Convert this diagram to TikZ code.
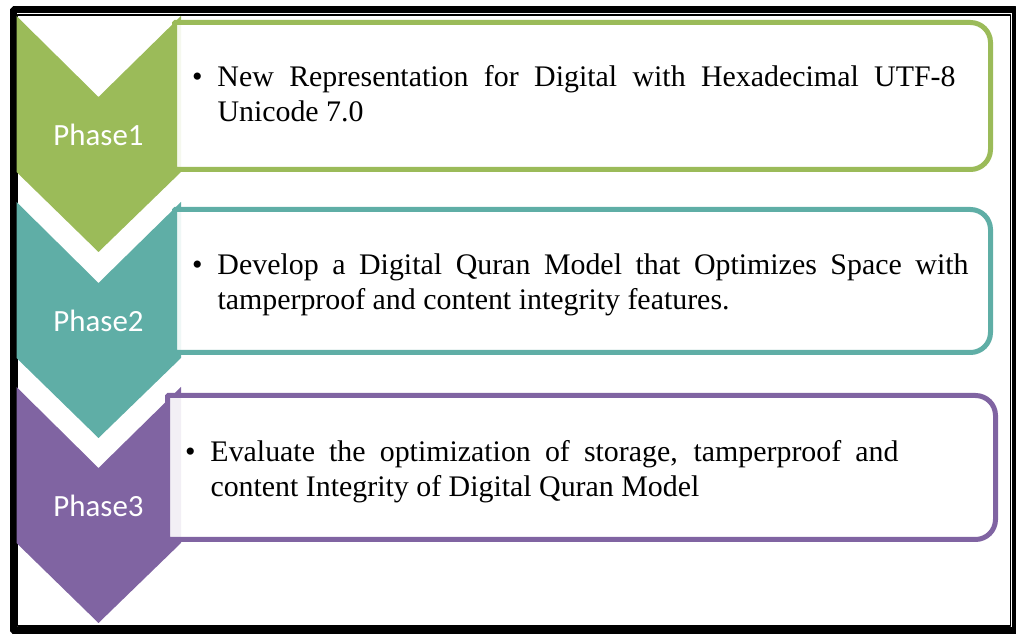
\documentclass[tikz,border=0pt]{standalone}
\usepackage{fontspec}
\setmainfont{Liberation Serif}
\newfontfamily\phasefont{Carlito}
\definecolor{phaseone}{HTML}{9BBB59}
\definecolor{phasetwo}{HTML}{5FAEA6}
\definecolor{phasethree}{HTML}{8064A2}
\newcommand{\itemlist}[2]{\makebox[25.5bp][l]{\textbullet}\parbox[t]{#1}{#2}}

\begin{document}
\begin{tikzpicture}[>=latex,line join=bevel,
  chevron/.style={fill=#1,draw=none},
  listbox/.style={draw=#1,line width=5bp,fill=white,fill opacity=0.9},
  phaselabel/.style={inner sep=0pt,text=white,font=\phasefont\fontsize{31}{37}\selectfont},
  itemtext/.style={anchor=base west,inner sep=0pt,font=\fontsize{30}{35}\selectfont},
]
  \pgfsetlinewidth{1bp}
  \useasboundingbox (0bp,0bp) rectangle (1016bp,634bp);
%%
\pgfsetcolor{black}
  % Frame
  \draw [line width=7bp] (13.5bp,624.5bp) rectangle (1015bp,3bp);
  \draw [line width=1.2bp] (17.5bp,619bp) rectangle (1010.5bp,8bp);
  % Node: Phase1
\begin{scope}
  \fill [chevron=phaseone] (16.5bp,618bp) -- (98.5bp,537bp) -- (181bp,618bp) -- (181bp,462bp) -- (98.5bp,382bp) -- (16.5bp,462bp) -- cycle;
  \draw (98.5bp,499bp) node [phaselabel] (phase1) {Phase1};
  \draw [listbox=phaseone] (174.5bp,611.5bp) -- (970.5bp,611.5bp) arc (90:0:20bp) -- (990.5bp,484.5bp) arc (0:-90:20bp) -- (174.5bp,464.5bp) -- cycle;
  \draw (191.5bp,547bp) node [itemtext] (item1) {\itemlist{738bp}{New Representation for Digital with Hexadecimal UTF-8\linebreak Unicode 7.0}};
\end{scope}
  % Node: Phase2
\begin{scope}
  \fill [chevron=phasetwo] (16.5bp,432bp) -- (98.5bp,351bp) -- (181bp,432bp) -- (181bp,276bp) -- (98.5bp,196bp) -- (16.5bp,276bp) -- cycle;
  \draw (98.5bp,313bp) node [phaselabel] (phase2) {Phase2};
  \draw [listbox=phasetwo] (174.5bp,424.5bp) -- (970.5bp,424.5bp) arc (90:0:20bp) -- (990.5bp,301.5bp) arc (0:-90:20bp) -- (174.5bp,281.5bp) -- cycle;
  \draw (191.5bp,359bp) node [itemtext] (item2) {\itemlist{751bp}{Develop a Digital Quran Model that Optimizes Space with\linebreak tamperproof and content integrity features.}};
\end{scope}
  % Node: Phase3
\begin{scope}
  \fill [chevron=phasethree] (16.5bp,247bp) -- (98.5bp,166bp) -- (181bp,247bp) -- (181bp,91bp) -- (98.5bp,11bp) -- (16.5bp,91bp) -- cycle;
  \draw (98.5bp,128bp) node [phaselabel] (phase3) {Phase3};
  \draw [listbox=phasethree] (167.5bp,238.5bp) -- (975.5bp,238.5bp) arc (90:0:20bp) -- (995.5bp,114.5bp) arc (0:-90:20bp) -- (167.5bp,94.5bp) -- cycle;
  \draw (184.5bp,172bp) node [itemtext] (item3) {\itemlist{688bp}{Evaluate the optimization of storage, tamperproof and\linebreak content Integrity of Digital Quran Model}};
\end{scope}
%
\end{tikzpicture}
\end{document}
